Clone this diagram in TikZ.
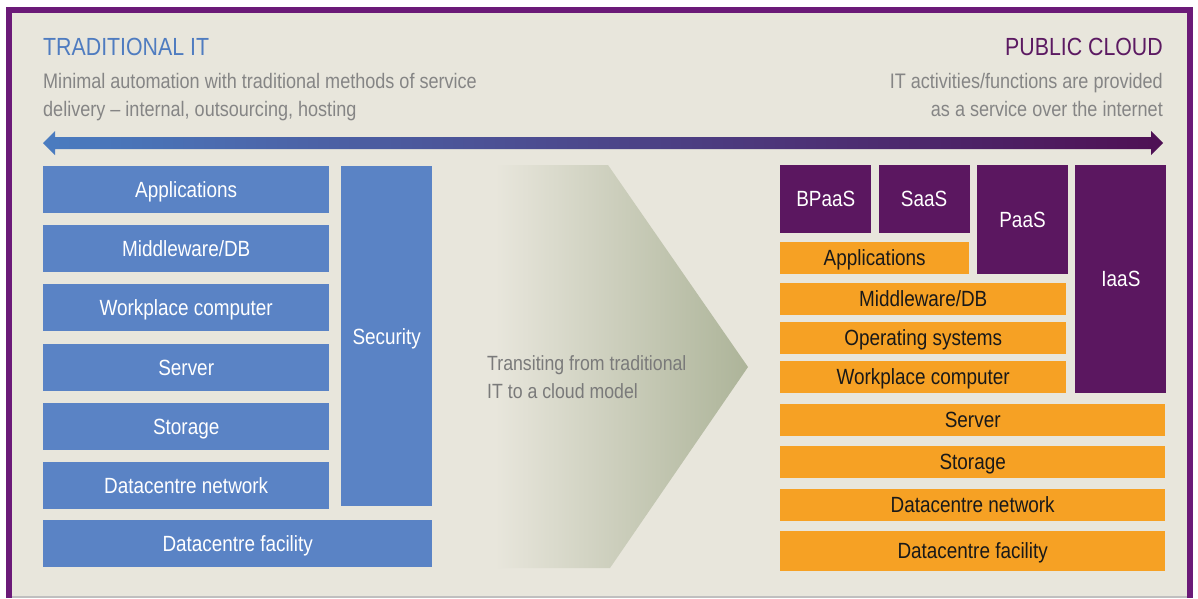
\documentclass[tikz,border=0pt]{standalone}
\usepackage{fontspec}
\setmainfont{Liberation Sans}[FakeStretch=0.86]
\usetikzlibrary{positioning}
\definecolor{frame}{HTML}{6B1A78}
\definecolor{paper}{HTML}{E8E6DC}
\definecolor{itblue}{HTML}{5A83C5}
\definecolor{headblue}{HTML}{4F7CC0}
\definecolor{cloudpurple}{HTML}{5B1760}
\definecolor{headpurple}{HTML}{5C1A62}
\definecolor{cloudorange}{HTML}{F6A124}
\definecolor{arrowblue}{HTML}{4A7CC0}
\definecolor{arrowpurple}{HTML}{4E1054}
\definecolor{chev}{HTML}{ADB499}
\definecolor{subgrey}{HTML}{858585}
\tikzset{x=1pt, y=-1pt,
  layer/.style={inner sep=0pt, anchor=north west},
  blubox/.style={layer, fill=itblue, text=white, minimum height=47pt,
    text height=16pt, text depth=0pt, font=\fontsize{22}{26}\selectfont},
  purbox/.style={layer, fill=cloudpurple, text=white, minimum width=91pt,
    text height=15pt, text depth=0pt, font=\fontsize{22}{26}\selectfont},
  orbox/.style={layer, fill=cloudorange, text=black!90, minimum height=32.5pt,
    text height=15pt, text depth=0pt, font=\fontsize{22}{26}\selectfont},
  head/.style={inner sep=0pt, font=\fontsize{24.8}{28}\selectfont},
  sub/.style={inner sep=0pt, text=subgrey, font=\fontsize{21}{27.5}\selectfont}}

\begin{document}
\begin{tikzpicture}
    \useasboundingbox (0,0) rectangle (1198,598);
    \fill[white] (0,0) rectangle (1198,598);
    \fill[frame] (6,7) rectangle (1193,598);
    \fill[paper] (12,13) rectangle (1187,596);
    \fill[black!25] (12,596) rectangle (1187,598);

    \node[head, text=headblue, anchor=base west] (tradHead) at (43,55) {TRADITIONAL IT};
    \node[sub, anchor=base west, align=left] (tradSub) at (43,116)
        {Minimal automation with traditional methods of service\\delivery -- internal, outsourcing, hosting};
    \node[head, text=headpurple, anchor=base east] (cloudHead) at (1163,55) {PUBLIC CLOUD};
    \node[sub, anchor=base east, align=right] (cloudSub) at (1163,116)
        {IT activities/functions are provided\\as a service over the internet};

    \shade[left color=arrowblue, right color=arrowpurple]
        (43,143) -- (55,131) -- (55,137) -- (1151,137) -- (1151,131) -- (1163,143)
        -- (1151,155) -- (1151,149) -- (55,149) -- (55,155) -- cycle;

    % traditional stack
    \node[blubox, minimum width=286pt] (tApp) at (43,166) {Applications};
    \node[blubox, minimum width=286pt, below=11.7pt of tApp] (tMid) {Middleware/DB};
    \node[blubox, minimum width=286pt, below=11.7pt of tMid] (tWork) {Workplace computer};
    \node[blubox, minimum width=286pt, below=11.7pt of tWork] (tSrv) {Server};
    \node[blubox, minimum width=286pt, below=11.7pt of tSrv] (tSto) {Storage};
    \node[blubox, minimum width=286pt, below=11.7pt of tSto] (tNet) {Datacentre network};
    \node[blubox, minimum width=91pt, minimum height=340pt] (tSec) at (341,166) {Security};
    \node[blubox, minimum width=389pt, below=11pt of tNet.south west, anchor=north west] (tFac) {Datacentre facility};

    \shade[left color=paper, right color=chev]
        (495,165) -- (608,165) -- (748,367) -- (610,568) -- (495,568) -- cycle;
    \node[sub, text=black!52, font=\fontsize{20.6}{28}\selectfont, anchor=base west, align=left] (transit) at (487,398)
        {Transiting from traditional\\IT to a cloud model};

    % cloud stack
    \node[purbox, minimum height=68pt] (cBpa) at (780,165) {BPaaS};
    \node[purbox, minimum height=68pt, right=7pt of cBpa] (cSaa) {SaaS};
    \node[purbox, minimum height=109pt, right=7pt of cSaa.north east, anchor=north west] (cPaa) {PaaS};
    \node[purbox, minimum height=228pt, right=7pt of cPaa.north east, anchor=north west] (cIaa) {IaaS};
    \node[orbox, minimum width=189pt, below=8pt of cBpa.south west, anchor=north west] (cApp) {Applications};
    \node[orbox, minimum width=286pt, below=8pt of cApp.south west, anchor=north west] (cMid) {Middleware/DB};
    \node[orbox, minimum width=286pt, below=6.5pt of cMid] (cOs) {Operating systems};
    \node[orbox, minimum width=286pt, below=6pt of cOs] (cWork) {Workplace computer};
    \node[orbox, minimum width=385pt, below=10pt of cWork.south west, anchor=north west] (cSrv) {Server};
    \node[orbox, minimum width=385pt, below=9pt of cSrv] (cSto) {Storage};
    \node[orbox, minimum width=385pt, below=10pt of cSto] (cNet) {Datacentre network};
    \node[orbox, minimum width=385pt, minimum height=40pt, below=9.5pt of cNet] (cFac) {Datacentre facility};
\end{tikzpicture}
\end{document}
